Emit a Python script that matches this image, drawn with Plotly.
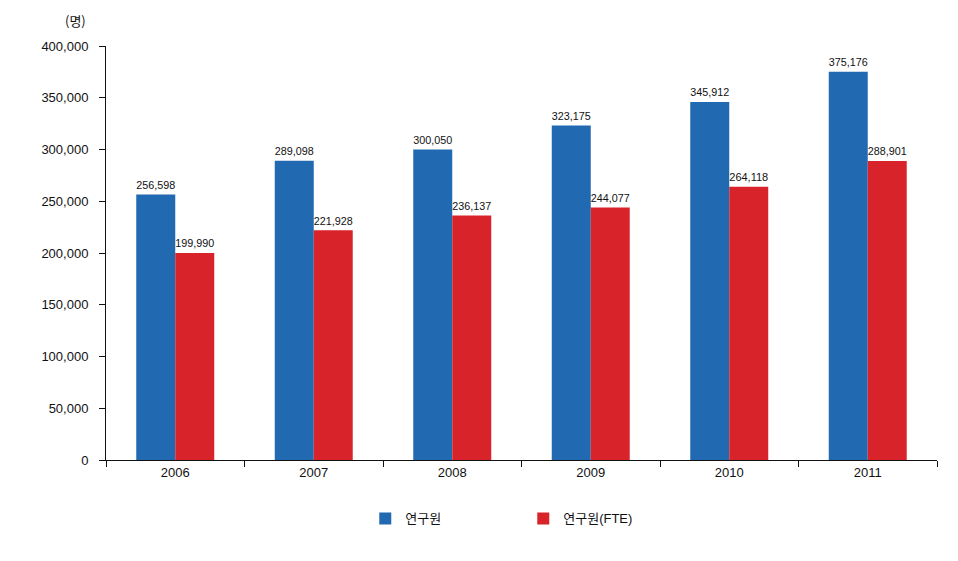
import plotly.graph_objects as go

years = ["2006", "2007", "2008", "2009", "2010", "2011"]
researchers = [256598, 289098, 300050, 323175, 345912, 375176]
researchers_fte = [199990, 221928, 236137, 244077, 264118, 288901]
y_ticks = [0, 50000, 100000, 150000, 200000, 250000, 300000, 350000, 400000]
y_tick_labels = [f"{v:,}" for v in y_ticks]

FONT = "Liberation Sans, Arial, Noto Sans CJK KR, sans-serif"
BLUE = "#2169b0"
RED = "#d8232a"

fig = go.Figure()
fig.add_trace(go.Bar(
    x=years, y=researchers, name="연구원", marker_color=BLUE,
    marker_line_width=0,
    text=[f"{v:,}" for v in researchers], textposition="outside",
    textfont=dict(size=12.5, color="#111", family=FONT), cliponaxis=False,
))
fig.add_trace(go.Bar(
    x=years, y=researchers_fte, name="연구원(FTE)", marker_color=RED,
    marker_line_width=0,
    text=[f"{v:,}" for v in researchers_fte], textposition="outside",
    textfont=dict(size=12.5, color="#111", family=FONT), cliponaxis=False,
))

fig.update_layout(
    width=950, height=553,
    margin=dict(l=98, r=21, t=38, b=101, autoexpand=False),
    paper_bgcolor="white", plot_bgcolor="white",
    barmode="group", bargap=0.437, bargroupgap=0,
    font=dict(family=FONT, size=13, color="#111"),
    showlegend=True,
    legend=dict(
        orientation="h", x=0.312, xanchor="left", y=-0.105, yanchor="top",
        entrywidth=113, entrywidthmode="pixels",
        font=dict(size=13, family=FONT, color="#111"),
    ),
    annotations=[dict(
        text="(명)", xref="paper", yref="paper", x=-0.022, y=1.035,
        xanchor="right", yanchor="bottom", showarrow=False,
        font=dict(size=13, family="Noto Sans CJK KR, sans-serif", color="#111"),
    )],
)
fig.update_xaxes(
    type="category", showline=True, linecolor="#111", linewidth=1,
    ticks="outside", ticklen=6, tickcolor="#111", tickson="boundaries",
    showgrid=False, automargin=False,
    tickfont=dict(size=13, family=FONT, color="#111"),
)
fig.update_yaxes(
    range=[0, 400000], tickvals=y_ticks, ticktext=y_tick_labels,
    showline=True, linecolor="#111", linewidth=1,
    ticks="outside", ticklen=6, tickcolor="#111", showgrid=False,
    zeroline=False, ticklabelstandoff=8, automargin=False,
    tickfont=dict(size=13, family=FONT, color="#111"),
)

fig.write_html("out.html")
